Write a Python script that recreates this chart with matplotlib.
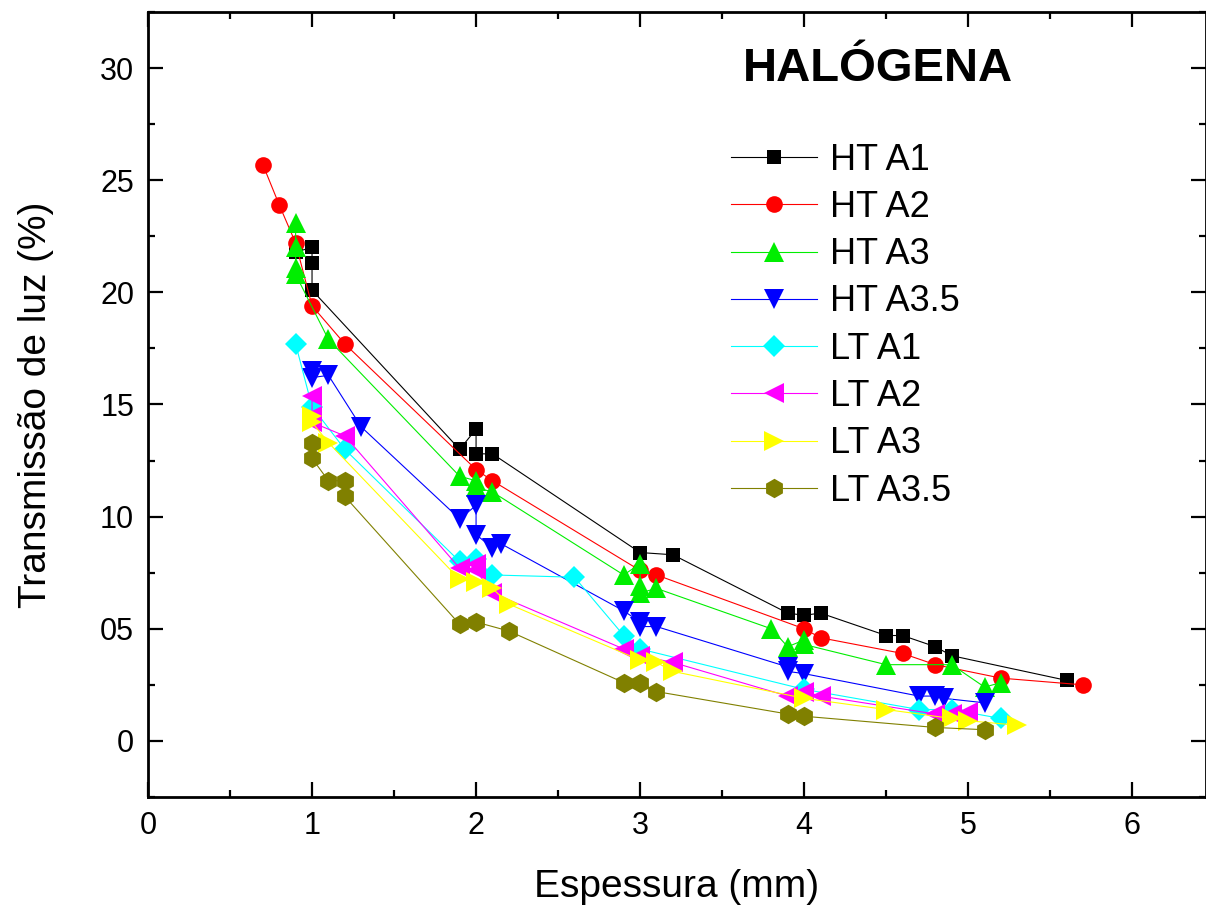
import matplotlib
matplotlib.use("Agg")
import matplotlib.pyplot as plt
from matplotlib.ticker import MultipleLocator, FixedLocator, FuncFormatter

plt.rcParams['font.family'] = ['Liberation Sans', 'DejaVu Sans']

# data
ht_a1_x = [0.9, 1.0, 1.0, 1.0, 1.9, 2.0, 2.0, 2.1, 3.0, 3.2, 3.9, 4.0, 4.1, 4.5, 4.6, 4.8, 4.9, 5.6]
ht_a1_y = [21.8, 22.0, 21.3, 20.1, 13.0, 13.9, 12.8, 12.8, 8.4, 8.3, 5.7, 5.6, 5.7, 4.7, 4.7, 4.2, 3.8, 2.7]

ht_a2_x = [0.7, 0.8, 0.9, 1.0, 1.2, 2.0, 2.1, 3.0, 3.1, 4.0, 4.1, 4.6, 4.8, 5.2, 5.7]
ht_a2_y = [25.7, 23.9, 22.2, 19.4, 17.7, 12.1, 11.6, 7.6, 7.4, 5.0, 4.6, 3.9, 3.4, 2.8, 2.5]

ht_a3_x = [0.9, 0.9, 0.9, 0.9, 1.1, 1.9, 2.0, 2.0, 2.1, 2.9, 3.0, 3.0, 3.0, 3.1, 3.8, 3.9, 4.0, 4.0, 4.5, 4.9, 5.1, 5.2]
ht_a3_y = [23.1, 22.0, 21.1, 20.8, 17.9, 11.8, 11.6, 11.3, 11.1, 7.4, 7.9, 6.9, 6.6, 6.8, 5.0, 4.2, 4.5, 4.3, 3.4, 3.4, 2.4, 2.6]

ht_a35_x = [1.0, 1.0, 1.1, 1.3, 1.9, 2.0, 2.0, 2.1, 2.15, 2.9, 3.0, 3.0, 3.1, 3.9, 3.9, 4.0, 4.7, 4.8, 4.85, 5.1]
ht_a35_y = [16.5, 16.2, 16.3, 14.0, 9.9, 10.5, 9.2, 8.6, 8.8, 5.8, 5.3, 5.1, 5.1, 3.3, 3.1, 3.0, 2.0, 2.0, 1.9, 1.7]

lt_a1_x = [0.9, 1.0, 1.2, 1.9, 2.0, 2.1, 2.6, 2.9, 3.0, 4.0, 4.7, 4.9, 5.2]
lt_a1_y = [17.7, 14.9, 13.0, 8.0, 8.1, 7.4, 7.3, 4.7, 4.1, 2.3, 1.4, 1.4, 1.0]

lt_a2_x = [1.0, 1.0, 1.0, 1.2, 1.9, 2.0, 2.0, 2.1, 2.9, 3.0, 3.2, 3.9, 4.0, 4.1, 4.8, 4.9, 5.0]
lt_a2_y = [15.4, 14.5, 14.2, 13.6, 7.7, 7.9, 7.6, 6.6, 4.1, 3.8, 3.5, 2.0, 2.2, 2.0, 1.2, 1.2, 1.3]

lt_a3_x = [1.0, 1.0, 1.1, 1.9, 2.0, 2.1, 2.2, 3.0, 3.1, 3.2, 4.0, 4.5, 4.9, 5.0, 5.3]
lt_a3_y = [14.5, 14.2, 13.3, 7.2, 7.1, 6.8, 6.1, 3.6, 3.5, 3.1, 1.9, 1.4, 1.0, 0.9, 0.7]

lt_a35_x = [1.0, 1.0, 1.1, 1.2, 1.2, 1.9, 2.0, 2.2, 2.9, 3.0, 3.1, 3.9, 4.0, 4.8, 5.1]
lt_a35_y = [13.3, 12.6, 11.6, 11.6, 10.9, 5.2, 5.3, 4.9, 2.6, 2.6, 2.2, 1.2, 1.1, 0.6, 0.5]

labels = ["HT A1", "HT A2", "HT A3", "HT A3.5", "LT A1", "LT A2", "LT A3", "LT A3.5"]
xs = [ht_a1_x, ht_a2_x, ht_a3_x, ht_a35_x, lt_a1_x, lt_a2_x, lt_a3_x, lt_a35_x]
ys = [ht_a1_y, ht_a2_y, ht_a3_y, ht_a35_y, lt_a1_y, lt_a2_y, lt_a3_y, lt_a35_y]
colors = ["#000000", "#ff0000", "#00ee00", "#0000ff", "#00ffff", "#ff00ff", "#ffff00", "#808000"]
markers = ["s", "o", "^", "v", "D", "<", ">", "h"]
msizes = [10, 12, 14, 14, 11, 14, 14, 14]

fig = plt.figure(figsize=(12.06, 9.07), dpi=100)
ax = fig.add_axes([148/1206, 1-797/907, 1-148/1206, (797-12)/907])

for i in range(len(labels)):
    ax.plot(xs[i], ys[i], color=colors[i], lw=0.8, marker=markers[i], ms=msizes[i],
            markeredgewidth=0, label=labels[i])

ax.set_xlim(0, 6.45)
ax.set_ylim(-2.5, 32.5)
ax.xaxis.set_major_locator(MultipleLocator(1))
ax.xaxis.set_minor_locator(MultipleLocator(0.5))
ax.yaxis.set_major_locator(FixedLocator([0, 5, 10, 15, 20, 25, 30]))
ax.yaxis.set_minor_locator(MultipleLocator(2.5))
ax.yaxis.set_major_formatter(FuncFormatter(lambda v, p: "0" if v == 0 else "%02d" % v))

ax.tick_params(which="both", direction="in", top=True, right=True, width=1.6, labelsize=22)
ax.tick_params(which="major", length=11)
ax.tick_params(which="minor", length=5)
ax.tick_params(axis="y", pad=10)
ax.tick_params(axis="x", pad=10)
for s in ax.spines.values():
    s.set_linewidth(2)

ax.set_xlabel("Espessura (mm)", fontsize=28, labelpad=20)
ax.set_ylabel("Transmissão de luz (%)", fontsize=28, labelpad=33)

ax.text(0.69, 0.928, "HALÓGENA", transform=ax.transAxes, ha="center", va="center",
        fontsize=34, fontweight="bold")

ax.legend(loc="upper left", bbox_to_anchor=(0.537, 0.852), frameon=False, fontsize=26,
          handlelength=2.4, handletextpad=0.35, labelspacing=0.34, borderaxespad=0)

fig.savefig("out.png", dpi=100)
